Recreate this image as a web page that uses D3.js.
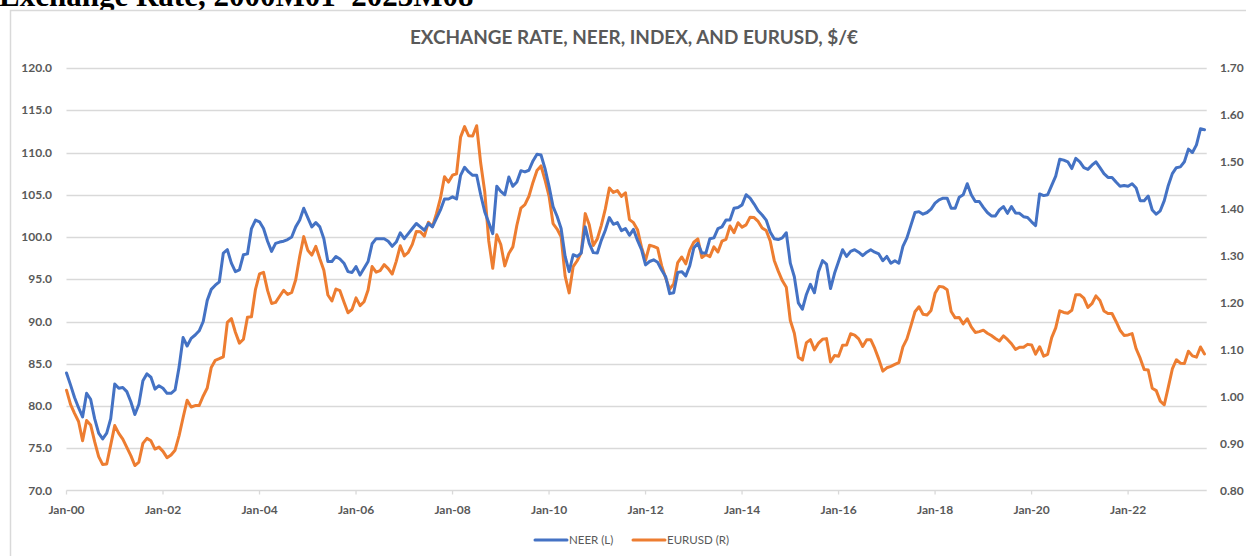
<!DOCTYPE html>
<html><head><meta charset="utf-8">
<script src="https://cdn.jsdelivr.net/npm/d3@7"></script>
<style>html,body{margin:0;padding:0;background:#fff;overflow:hidden}</style>
</head><body>
<svg id="c" width="1246" height="556"></svg>
<script>
// Monthly data, 2000M01 – 2023M08
const startYear = 2000;
const neer = [
  83.9,82.5,81.0,79.8,78.7,81.5,80.8,78.5,76.8,76.1,76.8,78.5,
  82.6,82.1,82.2,81.7,80.5,79.0,80.2,83.0,83.8,83.4,82.0,82.4,
  82.1,81.5,81.5,81.9,84.6,88.1,87.1,88.0,88.4,88.9,90.0,92.5,
  93.8,94.3,94.7,98.1,98.5,96.9,95.9,96.1,97.9,98.0,101.0,102.0,
  101.8,101.0,99.5,98.3,99.25,99.4,99.5,99.7,100.0,101.2,102.0,103.4,
  102.3,101.2,101.7,101.2,99.8,97.1,97.1,97.7,97.4,96.9,95.9,95.8,
  96.5,95.5,96.3,97.1,99.2,99.8,99.8,99.8,99.5,98.9,99.4,100.5,
  99.8,100.4,101.0,101.6,101.2,100.8,101.6,101.2,102.2,103.2,104.5,104.5,
  104.75,104.5,107.3,108.25,107.7,107.3,107.3,105.0,103.0,101.7,100.4,106.0,
  105.4,105.0,107.1,106.0,106.5,107.85,107.7,107.9,109.0,109.8,109.7,108.1,
  106.0,103.6,102.45,101.0,97.7,95.9,97.9,97.7,98.1,101.2,99.25,98.15,
  98.1,99.6,100.8,102.3,101.5,101.7,100.75,101.0,100.2,100.9,99.6,98.5,
  96.7,97.1,97.3,97.0,96.1,95.3,93.3,93.4,95.8,95.9,95.4,96.6,
  98.7,99.25,98.1,98.1,99.8,99.9,101.0,101.2,102.0,102.0,103.4,103.5,
  103.8,105.0,104.6,103.9,103.1,102.6,102.0,100.6,99.8,99.7,99.9,100.5,
  96.9,95.3,92.2,91.45,93.2,94.4,93.4,95.9,97.2,96.8,93.9,95.7,
  97.1,98.5,97.7,98.3,98.5,98.2,97.8,98.2,98.5,98.2,98.0,97.2,
  97.7,96.9,97.2,96.9,98.9,99.9,101.4,102.9,103.0,102.7,102.9,103.3,
  104.0,104.4,104.6,104.6,103.4,103.4,104.7,105.0,106.3,105.0,104.2,104.2,
  103.5,102.9,102.5,102.5,103.2,103.6,102.8,103.6,102.85,102.8,102.4,102.3,
  101.8,101.35,105.1,104.9,105.0,106.1,107.2,109.2,109.1,108.9,108.1,109.3,
  108.9,108.2,108.0,108.5,108.9,108.2,107.5,107.05,107.05,106.5,106.0,106.1,
  106.0,106.3,105.8,104.3,104.3,104.85,103.2,102.7,103.1,104.3,106.1,107.5,
  108.2,108.3,108.9,110.4,110.0,110.9,112.8,112.7
];
const eurusd = [
  1.0137,0.9834,0.9643,0.9470,0.9060,0.9492,0.9397,0.9041,0.8721,0.8552,0.8564,0.8973,
  0.9383,0.9217,0.9095,0.8920,0.8742,0.8532,0.8607,0.9005,0.9111,0.9059,0.8883,0.8924,
  0.8833,0.8700,0.8758,0.8858,0.9170,0.9554,0.9922,0.9778,0.9808,0.9811,1.0014,1.0183,
  1.0622,1.0773,1.0807,1.0848,1.1582,1.1663,1.1372,1.1139,1.1222,1.1692,1.1702,1.2286,
  1.2613,1.2646,1.2262,1.1985,1.2007,1.2138,1.2266,1.2176,1.2218,1.2490,1.2991,1.3408,
  1.3119,1.3014,1.3201,1.2938,1.2694,1.2165,1.2037,1.2292,1.2256,1.2015,1.1786,1.1856,
  1.2103,1.1938,1.2020,1.2271,1.2770,1.2650,1.2684,1.2811,1.2727,1.2611,1.2881,1.3213,
  1.2999,1.3074,1.3242,1.3516,1.3511,1.3419,1.3716,1.3622,1.3896,1.4227,1.4684,1.4570,
  1.4718,1.4748,1.5527,1.5751,1.5557,1.5553,1.5770,1.4975,1.4370,1.3322,1.2732,1.3449,
  1.3239,1.2785,1.3050,1.3190,1.3650,1.4016,1.4088,1.4268,1.4562,1.4816,1.4914,1.4614,
  1.4272,1.3686,1.3569,1.3406,1.2565,1.2209,1.2770,1.2894,1.3067,1.3898,1.3661,1.3220,
  1.3360,1.3649,1.3999,1.4442,1.4349,1.4388,1.4264,1.4343,1.3770,1.3706,1.3556,1.3179,
  1.2905,1.3224,1.3201,1.3162,1.2789,1.2526,1.2288,1.2400,1.2856,1.2974,1.2828,1.3119,
  1.3288,1.3359,1.2964,1.3026,1.2982,1.3189,1.3080,1.3310,1.3348,1.3635,1.3493,1.3704,
  1.3610,1.3659,1.3823,1.3813,1.3732,1.3592,1.3539,1.3316,1.2901,1.2673,1.2472,1.2331,
  1.1621,1.1350,1.0838,1.0779,1.1150,1.1213,1.0996,1.1139,1.1221,1.1235,1.0736,1.0877,
  1.0860,1.1093,1.1100,1.1339,1.1311,1.1229,1.1069,1.1212,1.1212,1.1026,1.0799,1.0543,
  1.0614,1.0643,1.0685,1.0723,1.1058,1.1229,1.1511,1.1807,1.1915,1.1756,1.1738,1.1836,
  1.2200,1.2348,1.2336,1.2276,1.1812,1.1678,1.1686,1.1549,1.1659,1.1484,1.1367,1.1384,
  1.1416,1.1351,1.1302,1.1238,1.1185,1.1293,1.1218,1.1126,1.1004,1.1053,1.1051,1.1113,
  1.1100,1.0905,1.1063,1.0862,1.0902,1.1255,1.1463,1.1828,1.1792,1.1775,1.1838,1.2170,
  1.2171,1.2098,1.1899,1.1979,1.2146,1.2047,1.1822,1.1772,1.1770,1.1601,1.1414,1.1304,
  1.1314,1.1342,1.1019,1.0819,1.0579,1.0566,1.0179,1.0128,0.9904,0.9826,1.0201,1.0589,
  1.0785,1.0711,1.0706,1.0968,1.0868,1.0840,1.1058,1.0909
];
const xTickLabels = ["Jan-00","Jan-02","Jan-04","Jan-06","Jan-08","Jan-10","Jan-12","Jan-14","Jan-16","Jan-18","Jan-20","Jan-22"];
const leftTicks = [70,75,80,85,90,95,100,105,110,115,120];
const rightTicks = [0.8,0.9,1.0,1.1,1.2,1.3,1.4,1.5,1.6,1.7];
const seriesNames = ["NEER (L)","EURUSD (R)"];
const colors = ["#4472C4","#ED7D31"];
const pageHeading = "Exchange Rate, 2000M01–2023M08";
const chartTitle = "EXCHANGE RATE, NEER, INDEX, AND EURUSD, $/€";

const svg = d3.select("#c");
const grid = "#d9d9d9", txt = "#595959";
const font = "Lato, 'Open Sans', sans-serif";

// page heading (cut off at top)
svg.append("text").attr("x",-1).attr("y",6).text(pageHeading)
  .attr("font-family","'Liberation Serif', serif").attr("font-weight","bold")
  .attr("font-size",31).attr("fill","#000");

// chart frame
svg.append("rect").attr("x",10.5).attr("y",10.5).attr("width",1300).attr("height",700)
  .attr("fill","#fff").attr("stroke",grid).attr("stroke-width",1.5);

const x = d3.scaleLinear().domain([0, neer.length-1]).range([66.5, 1204.5]);
const yL = d3.scaleLinear().domain([70,120]).range([490.5, 68]);
const yR = d3.scaleLinear().domain([0.8,1.7]).range([490.5, 68]);
const xEnd = 1206.7;

svg.append("text").attr("x",634).attr("y",43.5).attr("text-anchor","middle")
  .attr("font-family",font).attr("font-weight","bold").attr("font-size",18)
  .attr("fill",txt).attr("textLength",448).attr("lengthAdjust","spacingAndGlyphs")
  .text(chartTitle);

// gridlines
svg.append("g").selectAll("line").data(leftTicks.slice(1)).join("line")
  .attr("x1",66.5).attr("x2",xEnd).attr("y1",d=>Math.round(yL(d))+0.5).attr("y2",d=>Math.round(yL(d))+0.5)
  .attr("stroke",grid).attr("stroke-width",1.3);

// x axis
const xa = svg.append("g").attr("transform","translate(0,490.5)");
xa.append("line").attr("x1",66.5).attr("x2",xEnd).attr("stroke",grid).attr("stroke-width",1.3);
xa.selectAll("line.t").data(xTickLabels).join("line").attr("class","t")
  .attr("x1",(d,i)=>x(i*24)).attr("x2",(d,i)=>x(i*24)).attr("y1",0).attr("y2",4)
  .attr("stroke",grid).attr("stroke-width",1.3);
xa.selectAll("text").data(xTickLabels).join("text")
  .attr("x",(d,i)=>x(i*24)).attr("y",23).attr("text-anchor","middle")
  .attr("font-family",font).attr("font-weight","bold").attr("font-size",12).attr("fill",txt).text(d=>d);

// left axis labels
svg.append("g").selectAll("text").data(leftTicks).join("text")
  .attr("x",52).attr("y",d=>yL(d)+4).attr("text-anchor","end")
  .attr("font-family",font).attr("font-weight","bold").attr("font-size",12).attr("fill",txt)
  .text(d=>d3.format(".1f")(d));
// right axis labels
svg.append("g").selectAll("text").data(rightTicks).join("text")
  .attr("x",1220).attr("y",d=>yR(d)+4).attr("text-anchor","start")
  .attr("font-family",font).attr("font-weight","bold").attr("font-size",12).attr("fill",txt)
  .text(d=>d3.format(".2f")(d));

// lines
const lineL = d3.line().x((d,i)=>x(i)).y(d=>yL(d)).curve(d3.curveLinear);
const lineR = d3.line().x((d,i)=>x(i)).y(d=>yR(d)).curve(d3.curveLinear);
svg.append("path").attr("d",lineR(eurusd)).attr("fill","none").attr("stroke",colors[1])
  .attr("stroke-width",3).attr("stroke-linejoin","round").attr("stroke-linecap","round");
svg.append("path").attr("d",lineL(neer)).attr("fill","none").attr("stroke",colors[0])
  .attr("stroke-width",3).attr("stroke-linejoin","round").attr("stroke-linecap","round");

// legend
const lg = svg.append("g");
const legX = [535, 633], legW = 32;
seriesNames.forEach((n,i)=>{
  lg.append("line").attr("x1",legX[i]).attr("x2",legX[i]+legW).attr("y1",540).attr("y2",540)
    .attr("stroke",colors[i]).attr("stroke-width",3).attr("stroke-linecap","round");
  lg.append("text").attr("x",legX[i]+legW+2).attr("y",544).attr("font-family",font)
    .attr("font-size",11.5).attr("fill",txt).text(n);
});
</script>
</body></html>
